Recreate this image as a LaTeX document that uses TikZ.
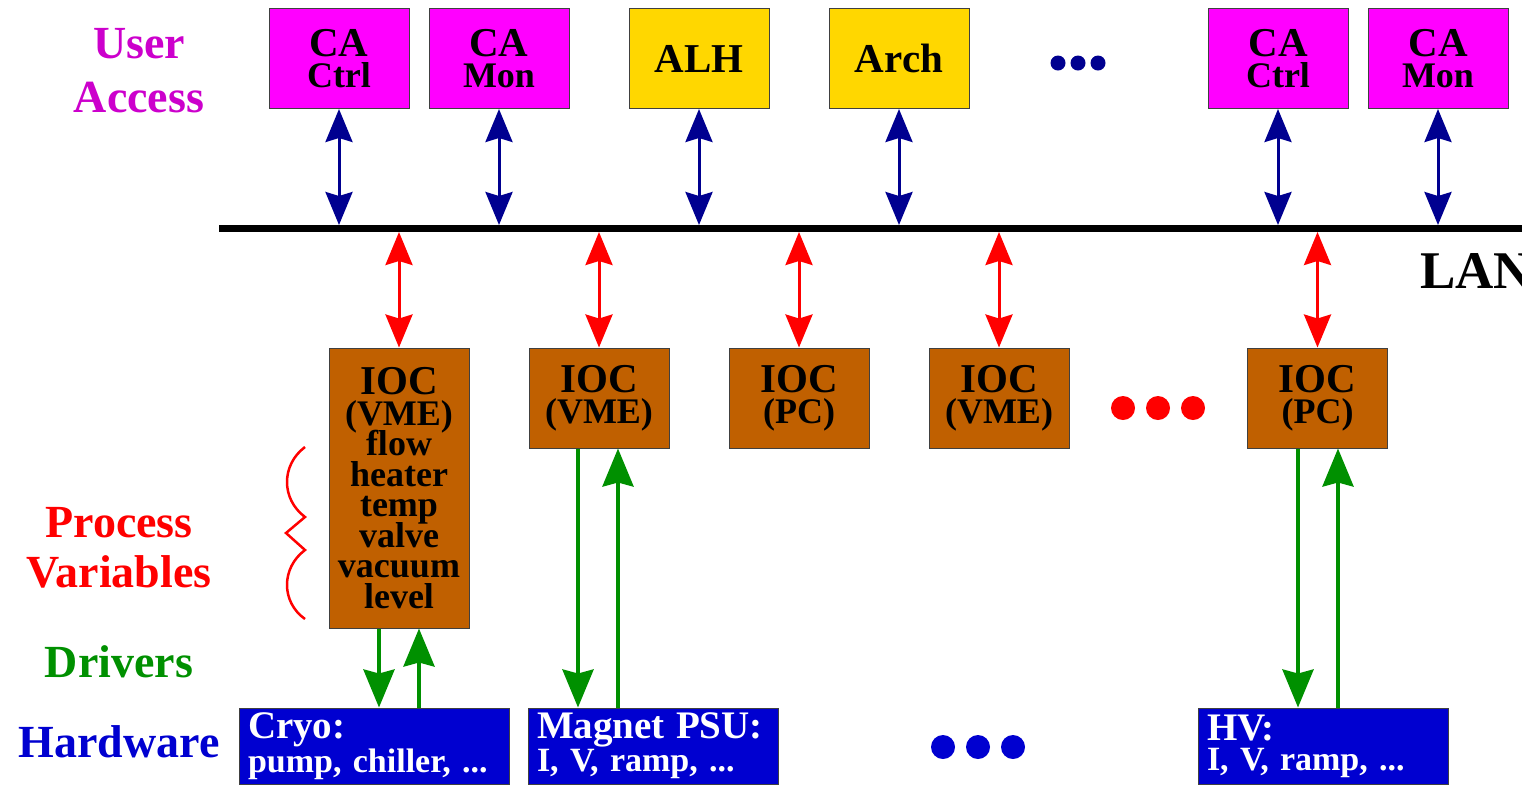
\documentclass[tikz,border=0pt]{standalone}
\usepackage{fontspec}
\setmainfont{Liberation Serif}
\usetikzlibrary{arrows.meta}

\definecolor{camag}{HTML}{FF00FF}
\definecolor{cagold}{HTML}{FFD700}
\definecolor{iocbrown}{HTML}{C06000}
\definecolor{hwblue}{HTML}{0000D0}
\definecolor{lannavy}{HTML}{000090}
\definecolor{drvgreen}{HTML}{009000}
\definecolor{usermag}{HTML}{CC00CC}

\setlength{\lineskiplimit}{-20pt}
\newcommand{\headline}[1]{{\fontsize{20.5}{15}\selectfont #1}}
\newcommand{\hwline}[1]{{\fontsize{19.5}{15}\selectfont #1}}

\begin{document}
\begin{tikzpicture}[x=0.5pt,y=-0.5pt]
  \useasboundingbox (0,0) rectangle (1522,784);

  \tikzstyle{box}=[draw=black!75, line width=0.5pt, inner sep=0pt, align=center, font=\bfseries\fontsize{18}{15.25}\selectfont]
  \tikzstyle{client}=[box, fill=camag, minimum width=70pt, minimum height=50pt]
  \tikzstyle{tool}=[box, fill=cagold, minimum width=70pt, minimum height=50pt]
  \tikzstyle{ioc}=[box, fill=iocbrown, minimum width=70pt, minimum height=50pt]
  \tikzstyle{hw}=[box, fill=hwblue, text=white, align=left, minimum height=38pt, inner xsep=4.5pt, font=\bfseries\fontsize{17}{15}\selectfont]
  \tikzstyle{tag}=[align=center, font=\bfseries\fontsize{23}{27}\selectfont]
  \tikzstyle{lanlink}=[lannavy, line width=1.5pt, >={Stealth[length=16.5pt,width=13.5pt,inset=2pt]}, <->]
  \tikzstyle{pvlink}=[red, line width=1.5pt, >={Stealth[length=16.5pt,width=13.5pt,inset=2pt]}, <->]
  \tikzstyle{drv}=[drvgreen, line width=2pt, >={Stealth[length=19pt,width=15.5pt,inset=2pt]}, ->]

  \node[tag, text=usermag] (user) at (139,71) {User\\Access};
  \node[tag, text=red, font=\bfseries\fontsize{23}{25}\selectfont] (pv) at (119,548) {Process\\Variables};
  \node[tag, text=drvgreen, anchor=base] (drivers) at (119,677) {Drivers};
  \node[tag, text=hwblue, anchor=base] (hardware) at (119,757) {Hardware};
  \node[tag, anchor=base west, font=\bfseries\fontsize{26.5}{30}\selectfont] (lanlabel) at (1413,288) {LAN};

  \node[client] (ctrl1) at (339,58.5) {\headline{CA}\\Ctrl};
  \node[client] (mon1) at (499,58.5) {\headline{CA}\\Mon};
  \node[tool] (alh) at (699,58.5) {\headline{ALH}};
  \node[tool] (arch) at (899,58.5) {\headline{Arch}};
  \node[client] (ctrl2) at (1278,58.5) {\headline{CA}\\Ctrl};
  \node[client] (mon2) at (1438,58.5) {\headline{CA}\\Mon};

  \coordinate (lanL) at (219,228.5);
  \coordinate (lanR) at (1522,228.5);
  \coordinate (lantop) at (219,225);
  \coordinate (lanbot) at (219,232);
  \draw[line width=3.5pt] (lanL) -- (lanR);

  \node[ioc, minimum height=140pt] (ioc1) at (399,488) {\headline{IOC}\\(VME)\\flow\\heater\\temp\\valve\\vacuum\\level};
  \node[ioc] (ioc2) at (599,398) {\headline{IOC}\\(VME)};
  \node[ioc] (ioc3) at (799,398) {\headline{IOC}\\(PC)};
  \node[ioc] (ioc4) at (999,398) {\headline{IOC}\\(VME)};
  \node[ioc] (ioc5) at (1317.5,398) {\headline{IOC}\\(PC)};

  \node[hw, text width=126pt] (cryo) at (374,746) {\hwline{Cryo:}\\pump, chiller, ...};
  \node[hw, text width=116pt] (magnet) at (653,746) {\hwline{Magnet PSU:}\\I, V, ramp, ...};
  \node[hw, text width=116pt] (hv) at (1323,746) {\hwline{HV:}\\I, V, ramp, ...};

  \draw[lanlink] (ctrl1.south) -- (ctrl1.south |- lantop);
  \draw[lanlink] (mon1.south) -- (mon1.south |- lantop);
  \draw[lanlink] (alh.south) -- (alh.south |- lantop);
  \draw[lanlink] (arch.south) -- (arch.south |- lantop);
  \draw[lanlink] (ctrl2.south) -- (ctrl2.south |- lantop);
  \draw[lanlink] (mon2.south) -- (mon2.south |- lantop);

  \draw[pvlink] (ioc1.north |- lanbot) -- (ioc1.north);
  \draw[pvlink] (ioc2.north |- lanbot) -- (ioc2.north);
  \draw[pvlink] (ioc3.north |- lanbot) -- (ioc3.north);
  \draw[pvlink] (ioc4.north |- lanbot) -- (ioc4.north);
  \draw[pvlink] (ioc5.north |- lanbot) -- (ioc5.north);

  \draw[drv] ([xshift=-10pt]ioc1.south) -- ([xshift=-10pt]ioc1.south |- cryo.north);
  \draw[drv] ([xshift=10pt]ioc1.south |- cryo.north) -- ([xshift=10pt]ioc1.south);
  \draw[drv] ([xshift=-10.5pt]ioc2.south) -- ([xshift=-10.5pt]ioc2.south |- magnet.north);
  \draw[drv] ([xshift=9.5pt]ioc2.south |- magnet.north) -- ([xshift=9.5pt]ioc2.south);
  \draw[drv] ([xshift=-9.75pt]ioc5.south) -- ([xshift=-9.75pt]ioc5.south |- hv.north);
  \draw[drv] ([xshift=10.25pt]ioc5.south |- hv.north) -- ([xshift=10.25pt]ioc5.south);

  \draw[red, line width=1.25pt] (305,447) .. controls (281,465) and (281,499) .. (305,517) -- (286,533) -- (305,550) .. controls (281,568) and (281,602) .. (305,619);

  \fill[lannavy] (1058,63) circle (3.75pt) (1078,63) circle (3.75pt) (1098,63) circle (3.75pt);
  \fill[red] (1123,408) circle (6pt) (1158,408) circle (6pt) (1193,408) circle (6pt);
  \fill[hwblue] (943,747) circle (6pt) (978,747) circle (6pt) (1013,747) circle (6pt);
\end{tikzpicture}
\end{document}
